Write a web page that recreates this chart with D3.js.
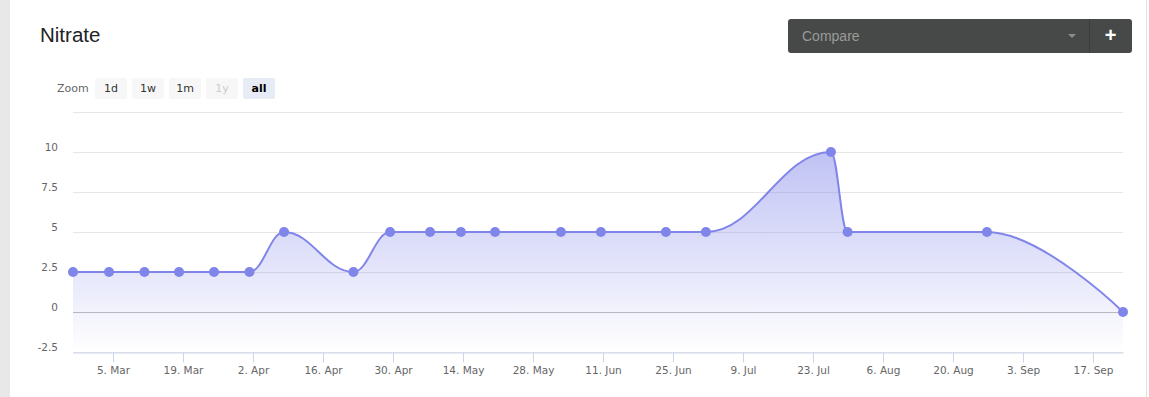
<!DOCTYPE html>
<html>
<head>
<meta charset="utf-8">
<script src="https://cdn.jsdelivr.net/npm/d3@7"></script>
<style>
  body { margin: 0; background: #fff; }
  svg { display: block; }
</style>
</head>
<body>
<svg id="chart" width="1149" height="397"></svg>
<script>
// data (UTC)
var dates = [
  "2018-02-25T00:00", "2018-03-04T05:00", "2018-03-11T07:00", "2018-03-18T05:00",
  "2018-03-25T05:00", "2018-04-01T07:00", "2018-04-08T05:00", "2018-04-22T02:00",
  "2018-04-29T10:00", "2018-05-07T10:00", "2018-05-13T14:00", "2018-05-20T10:00",
  "2018-06-02T14:00", "2018-06-10T14:00", "2018-06-23T14:00", "2018-07-01T14:00",
  "2018-07-26T14:00", "2018-07-29T22:00", "2018-08-26T19:00", "2018-09-23T00:00"
];
var nitrate = [2.5, 2.5, 2.5, 2.5, 2.5, 2.5, 5, 2.5, 5, 5, 5, 5, 5, 5, 5, 5, 10, 5, 5, 0];

var xTicks = [
  "2018-03-05", "2018-03-19", "2018-04-02", "2018-04-16", "2018-04-30",
  "2018-05-14", "2018-05-28", "2018-06-11", "2018-06-25", "2018-07-09",
  "2018-07-23", "2018-08-06", "2018-08-20", "2018-09-03", "2018-09-17"
];
var yTicks = [-2.5, 0, 2.5, 5, 7.5, 10, 12.5];
var zoomButtons = ["1d", "1w", "1m", "1y", "all"];

var parse = d3.utcParse("%Y-%m-%dT%H:%M");
var parseDay = d3.utcParse("%Y-%m-%d");
var data = dates.map((d, i) => ({ date: parse(d), value: nitrate[i] }));

var svg = d3.select("#chart"),
  margin = { top: 112, left: 73, bottom: 45, right: 26 },
  W = +svg.attr("width"),
  H = +svg.attr("height");

var color = "#8085e9";
var labelFont = "'DejaVu Sans', Verdana, sans-serif";

// page / card
svg.append("rect").attr("width", W).attr("height", H).attr("fill", "#fff");
svg.append("rect").attr("width", 10).attr("height", H).attr("fill", "#e8e8e8");
svg.append("line").attr("x1", 1146.5).attr("x2", 1146.5).attr("y1", 0).attr("y2", H)
  .attr("stroke", "#e2e2e2");

// title
svg.append("text").attr("x", 40).attr("y", 41.5)
  .attr("font-family", "'Liberation Sans', Arial, sans-serif")
  .attr("font-size", 20.5).attr("fill", "#222").text("Nitrate");

// compare widget
var cmp = svg.append("g");
cmp.append("rect").attr("x", 788).attr("y", 19).attr("width", 344).attr("height", 34)
  .attr("rx", 3).attr("fill", "#474948");
cmp.append("line").attr("x1", 1089.5).attr("x2", 1089.5).attr("y1", 19).attr("y2", 53)
  .attr("stroke", "#3b3d3c");
cmp.append("text").attr("x", 802).attr("y", 36).attr("dy", "0.35em")
  .attr("font-family", "'Liberation Sans', Arial, sans-serif")
  .attr("font-size", 14).attr("fill", "#9a9a9a").text("Compare");
cmp.append("path").attr("d", "M1068,34L1076,34L1072,38Z").attr("fill", "#8c8c8c");
cmp.append("text").attr("x", 1110.5).attr("y", 35).attr("dy", "0.35em")
  .attr("text-anchor", "middle")
  .attr("font-family", "'Liberation Sans', Arial, sans-serif")
  .attr("font-weight", "bold").attr("font-size", 20).attr("fill", "#fff").text("+");

// range selector
var rs = svg.append("g").attr("font-family", labelFont).attr("font-size", 11);
rs.append("text").attr("x", 57).attr("y", 88.5).attr("dy", "0.35em")
  .attr("fill", "#666").text("Zoom");
var btn = rs.selectAll("g.btn").data(zoomButtons).enter().append("g")
  .attr("class", "btn")
  .attr("transform", (d, i) => `translate(${95 + i * 37},78)`);
btn.append("rect").attr("width", 32).attr("height", 21).attr("rx", 2)
  .attr("fill", (d) => (d === "all" ? "#e6ebf5" : "#f7f7f7"));
btn.append("text").attr("x", 16).attr("y", 10.5).attr("dy", "0.35em")
  .attr("text-anchor", "middle")
  .attr("font-weight", (d) => (d === "all" ? "bold" : "normal"))
  .attr("fill", (d) => (d === "1y" ? "#cccccc" : d === "all" ? "#000" : "#333"))
  .text((d) => d);

// scales
var x = d3.scaleUtc()
  .domain(d3.extent(data, (d) => d.date))
  .range([margin.left, W - margin.right]);
var y = d3.scaleLinear()
  .domain([-2.5, 12.5])
  .range([H - margin.bottom, margin.top]);

// grid
svg.append("g").selectAll("line").data(yTicks).enter().append("line")
  .attr("x1", x.range()[0]).attr("x2", x.range()[1])
  .attr("y1", (d) => Math.round(y(d)) + 0.5).attr("y2", (d) => Math.round(y(d)) + 0.5)
  .attr("stroke", "#e6e6e6");

// Highcharts-style spline
function spline(pts) {
  var p = d3.path(), s = 1.5, den = s + 1, lastRight = null;
  pts.forEach(function (pt, i) {
    var px = pt[0], py = pt[1];
    if (i === 0) { p.moveTo(px, py); return; }
    var prev = pts[i - 1], next = pts[i + 1];
    var lcx = px, lcy = py, rc = null;
    if (next) {
      lcx = (s * px + prev[0]) / den;
      lcy = (s * py + prev[1]) / den;
      var rcx = (s * px + next[0]) / den,
        rcy = (s * py + next[1]) / den, corr = 0;
      if (rcx !== lcx) corr = ((rcy - lcy) * (rcx - px)) / (rcx - lcx) + py - rcy;
      lcy += corr; rcy += corr;
      if (lcy > prev[1] && lcy > py) { lcy = Math.max(prev[1], py); rcy = 2 * py - lcy; }
      else if (lcy < prev[1] && lcy < py) { lcy = Math.min(prev[1], py); rcy = 2 * py - lcy; }
      if (rcy > next[1] && rcy > py) { rcy = Math.max(next[1], py); lcy = 2 * py - rcy; }
      else if (rcy < next[1] && rcy < py) { rcy = Math.min(next[1], py); lcy = 2 * py - rcy; }
      rc = [rcx, rcy];
    }
    var a = lastRight || prev;
    p.bezierCurveTo(a[0], a[1], lcx, lcy, px, py);
    lastRight = rc;
  });
  return p.toString();
}

var pts = data.map((d) => [x(d.date), y(d.value)]);
var linePath = spline(pts);
var bottom = y.range()[0];

var defs = svg.append("defs");
var grad = defs.append("linearGradient").attr("id", "fillGrad")
  .attr("x1", 0).attr("y1", 0).attr("x2", 0).attr("y2", 1);
grad.append("stop").attr("offset", 0).attr("stop-color", color).attr("stop-opacity", 0.5);
grad.append("stop").attr("offset", 1).attr("stop-color", color).attr("stop-opacity", 0);

svg.append("path")
  .attr("d", linePath + `L${pts[pts.length - 1][0]},${bottom}L${pts[0][0]},${bottom}Z`)
  .attr("fill", "url(#fillGrad)");

// zero line
svg.append("line")
  .attr("x1", x.range()[0]).attr("x2", x.range()[1])
  .attr("y1", Math.round(y(0)) + 0.5).attr("y2", Math.round(y(0)) + 0.5)
  .attr("stroke", "#b8b8c2");

// x axis
var xAxis = svg.append("g")
  .attr("transform", `translate(0,${bottom + 0.5})`)
  .call(d3.axisBottom(x)
    .tickValues(xTicks.map(parseDay))
    .tickFormat(d3.utcFormat("%-d. %b"))
    .tickSize(10).tickPadding(4).tickSizeOuter(0));
xAxis.select(".domain").attr("stroke", "#ccd6eb");
xAxis.selectAll(".tick line").attr("stroke", "#ccd6eb");
xAxis.selectAll(".tick text").attr("fill", "#666")
  .attr("font-family", labelFont).attr("font-size", 10.5);

// y labels
svg.append("g").selectAll("text").data(yTicks.filter((d) => d !== 12.5)).enter()
  .append("text")
  .attr("x", 58).attr("y", (d) => y(d) - 5).attr("dy", "0.35em")
  .attr("text-anchor", "end").attr("fill", "#666")
  .attr("font-family", labelFont).attr("font-size", 10.5)
  .text((d) => String(d));

// series line + markers
svg.append("path").attr("d", linePath).attr("fill", "none")
  .attr("stroke", color).attr("stroke-width", 2);
svg.append("g").selectAll("circle").data(data).enter().append("circle")
  .attr("cx", (d) => x(d.date)).attr("cy", (d) => y(d.value))
  .attr("r", 5).attr("fill", color);
</script>
</body>
</html>
